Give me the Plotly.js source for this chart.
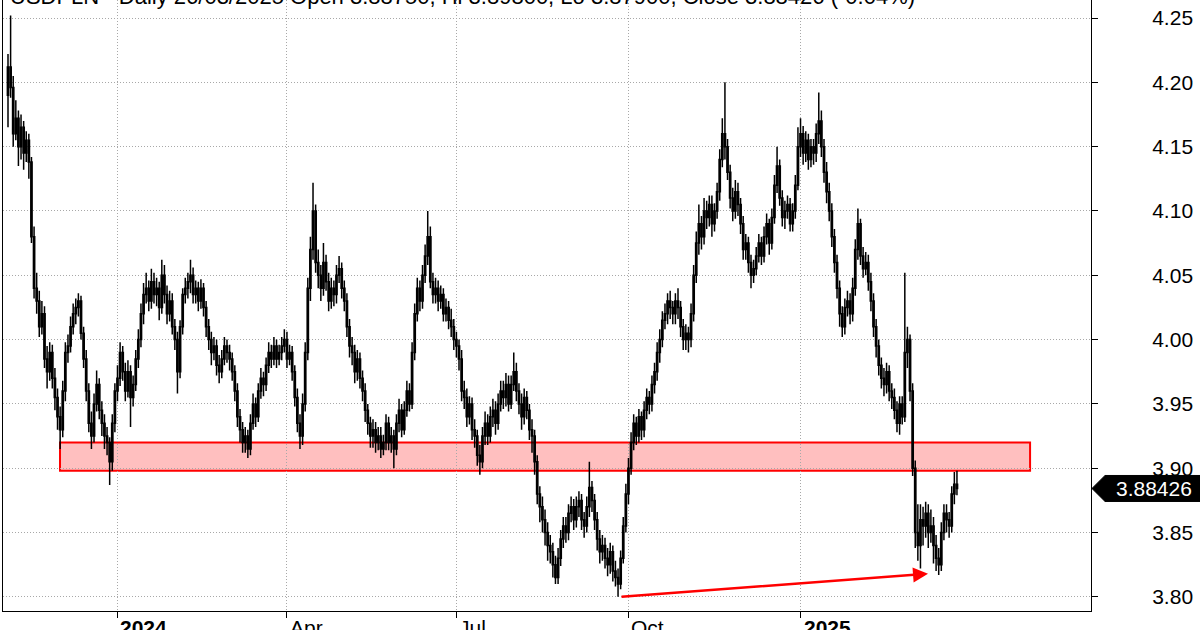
<!DOCTYPE html>
<html><head><meta charset="utf-8">
<script src="https://cdn.plot.ly/plotly-3.0.1.min.js"></script>
<style>html,body{margin:0;padding:0;background:#fff}#chart{width:1200px;height:630px}</style>
</head><body><div id="chart"></div>
<script>
// ---- data (USDPLN daily) ----
const firstDate = '2023-11-02';
const opens = [
4.190,4.212,4.196,4.160,4.172,4.150,4.165,4.145,4.155,4.138,
4.080,4.040,4.030,4.010,4.020,3.985,3.975,3.990,3.970,3.955,
3.940,3.930,3.960,3.990,3.995,4.010,4.020,4.025,4.030,4.005,
3.985,3.960,3.935,3.925,3.950,3.965,3.945,3.935,3.925,3.920,
3.905,3.935,3.960,3.970,3.990,3.975,3.960,3.975,3.955,3.965,
3.985,4.000,4.020,4.035,4.040,4.030,4.045,4.035,4.040,4.025,
4.050,4.035,4.020,4.030,4.010,4.000,3.975,4.010,4.035,4.040,
4.045,4.050,4.035,4.040,4.030,4.040,4.025,4.010,4.000,3.990,
3.995,3.980,3.975,3.985,3.995,3.990,3.985,3.975,3.960,3.940,
3.930,3.920,3.925,3.915,3.935,3.950,3.940,3.960,3.970,3.965,
3.980,3.990,3.985,3.995,3.985,3.990,3.995,4.000,3.985,3.990,
3.975,3.955,3.935,3.925,3.950,3.990,4.040,4.070,4.100,4.060,
4.050,4.040,4.060,4.045,4.030,4.040,4.035,4.050,4.055,4.040,
4.030,4.010,3.995,3.990,3.975,3.985,3.970,3.960,3.945,3.935,
3.925,3.930,3.920,3.925,3.915,3.920,3.935,3.920,3.925,3.915,
3.935,3.945,3.930,3.945,3.960,3.950,3.990,4.020,4.040,4.030,
4.050,4.065,4.080,4.045,4.035,4.040,4.030,4.035,4.020,4.025,
4.015,4.010,4.000,3.995,3.985,3.960,3.955,3.940,3.950,3.930,
3.925,3.910,3.905,3.925,3.935,3.925,3.940,3.945,3.935,3.950,
3.960,3.955,3.965,3.950,3.965,3.975,3.960,3.950,3.940,3.955,
3.945,3.930,3.925,3.905,3.880,3.870,3.860,3.850,3.840,3.835,
3.825,3.815,3.830,3.845,3.855,3.850,3.865,3.870,3.860,3.870,
3.875,3.860,3.855,3.870,3.885,3.875,3.860,3.845,3.835,3.840,
3.830,3.825,3.835,3.820,3.815,3.810,3.830,3.855,3.880,3.900,
3.920,3.935,3.925,3.940,3.930,3.945,3.955,3.950,3.965,3.975,
3.990,4.000,4.015,4.020,4.030,4.025,4.020,4.030,4.025,4.010,
4.000,4.005,4.000,4.020,4.050,4.075,4.090,4.080,4.100,4.095,
4.105,4.090,4.100,4.115,4.140,4.160,4.150,4.130,4.110,4.100,
4.115,4.105,4.090,4.070,4.075,4.060,4.050,4.055,4.065,4.075,
4.065,4.080,4.090,4.075,4.095,4.120,4.135,4.110,4.095,4.100,
4.105,4.090,4.100,4.120,4.150,4.160,4.145,4.155,4.140,4.150,
4.145,4.160,4.170,4.150,4.130,4.115,4.100,4.080,4.060,4.040,
4.020,4.010,4.025,4.030,4.020,4.040,4.070,4.090,4.065,4.055,
4.060,4.045,4.030,4.010,3.995,3.980,3.970,3.965,3.975,3.960,
3.955,3.945,3.935,3.950,3.940,3.990,4.000,3.960,3.900,3.850,
3.840,3.860,3.855,3.865,3.850,3.855,3.840,3.830,3.825,3.850,
3.865,3.860,3.855,3.880,3.8875];
const highs = [
4.222,4.252,4.205,4.186,4.178,4.175,4.170,4.162,4.160,4.142,
4.088,4.052,4.038,4.030,4.026,3.995,3.998,3.996,3.978,3.962,
3.948,3.968,3.998,4.004,4.018,4.028,4.032,4.036,4.034,4.010,
3.992,3.966,3.944,3.958,3.976,3.970,3.952,3.942,3.932,3.924,
3.942,3.966,3.980,3.998,3.995,3.982,3.984,3.980,3.972,3.992,
4.008,4.028,4.044,4.052,4.046,4.055,4.052,4.048,4.045,4.062,
4.058,4.042,4.038,4.036,4.016,4.006,4.015,4.040,4.048,4.052,
4.062,4.056,4.046,4.045,4.047,4.044,4.030,4.016,4.006,4.002,
4.000,3.988,3.992,4.002,4.000,3.996,3.990,3.980,3.966,3.946,
3.936,3.932,3.930,3.942,3.958,3.955,3.966,3.978,3.975,3.986,
3.998,3.996,4.002,4.000,3.996,4.002,4.008,4.006,3.996,3.995,
3.980,3.962,3.942,3.958,3.998,4.048,4.080,4.122,4.105,4.070,
4.058,4.075,4.066,4.052,4.048,4.046,4.058,4.065,4.060,4.046,
4.036,4.016,4.002,3.996,3.992,3.990,3.976,3.966,3.950,3.940,
3.938,3.936,3.932,3.932,3.926,3.942,3.940,3.932,3.930,3.942,
3.954,3.950,3.952,3.968,3.966,3.998,4.028,4.048,4.046,4.058,
4.074,4.100,4.088,4.052,4.048,4.046,4.042,4.040,4.032,4.030,
4.024,4.016,4.006,4.000,3.992,3.968,3.962,3.956,3.955,3.938,
3.930,3.918,3.932,3.944,3.942,3.948,3.954,3.952,3.958,3.968,
3.968,3.974,3.972,3.972,3.990,3.982,3.966,3.958,3.962,3.960,
3.950,3.938,3.930,3.910,3.886,3.878,3.868,3.858,3.848,3.842,
3.832,3.838,3.852,3.862,3.862,3.872,3.878,3.876,3.878,3.882,
3.880,3.866,3.878,3.905,3.890,3.880,3.866,3.852,3.848,3.846,
3.838,3.842,3.840,3.828,3.822,3.836,3.862,3.888,3.908,3.928,
3.942,3.940,3.946,3.944,3.952,3.962,3.960,3.972,3.982,3.998,
4.008,4.022,4.028,4.036,4.038,4.030,4.036,4.040,4.030,4.016,
4.012,4.010,4.028,4.058,4.084,4.105,4.096,4.110,4.108,4.112,
4.112,4.106,4.122,4.148,4.172,4.200,4.156,4.136,4.118,4.124,
4.122,4.110,4.096,4.082,4.080,4.066,4.062,4.072,4.082,4.080,
4.088,4.098,4.094,4.102,4.128,4.150,4.140,4.116,4.108,4.112,
4.110,4.106,4.128,4.165,4.172,4.166,4.162,4.160,4.156,4.156,
4.168,4.192,4.178,4.156,4.138,4.122,4.106,4.086,4.066,4.046,
4.026,4.032,4.038,4.036,4.048,4.078,4.102,4.094,4.072,4.068,
4.066,4.052,4.036,4.016,4.000,3.986,3.978,3.982,3.980,3.966,
3.962,3.952,3.956,3.956,4.052,4.010,4.004,3.966,3.906,3.872,
3.872,3.870,3.874,3.872,3.868,3.862,3.848,3.838,3.858,3.872,
3.872,3.866,3.886,3.897,3.898];
const lows = [
4.165,4.188,4.150,4.155,4.135,4.140,4.132,4.138,4.125,4.075,
4.032,4.020,4.002,4.004,3.978,3.962,3.968,3.962,3.945,3.930,
3.915,3.924,3.952,3.982,3.990,4.004,4.012,4.018,4.000,3.978,
3.952,3.928,3.915,3.920,3.944,3.938,3.925,3.915,3.910,3.887,
3.898,3.928,3.952,3.964,3.968,3.952,3.955,3.932,3.948,3.960,
3.978,3.994,4.012,4.028,4.022,4.024,4.028,4.026,4.015,4.020,
4.028,4.012,4.014,4.004,3.992,3.958,3.970,4.004,4.028,4.032,
4.036,4.028,4.028,4.022,4.024,4.018,4.002,3.992,3.980,3.984,
3.972,3.966,3.970,3.980,3.982,3.976,3.968,3.952,3.932,3.920,
3.912,3.912,3.908,3.910,3.930,3.932,3.936,3.954,3.956,3.960,
3.974,3.978,3.980,3.978,3.980,3.984,3.990,3.978,3.980,3.968,
3.948,3.928,3.915,3.918,3.944,3.984,4.030,4.062,4.052,4.040,
4.030,4.034,4.038,4.022,4.024,4.026,4.028,4.044,4.032,4.022,
4.002,3.986,3.980,3.966,3.968,3.962,3.952,3.936,3.926,3.916,
3.916,3.912,3.914,3.908,3.910,3.914,3.914,3.912,3.900,3.910,
3.928,3.924,3.926,3.940,3.944,3.946,3.984,4.014,4.022,4.024,
4.044,4.058,4.040,4.028,4.028,4.022,4.024,4.014,4.014,4.008,
4.002,3.992,3.986,3.976,3.952,3.946,3.932,3.934,3.922,3.916,
3.902,3.895,3.900,3.918,3.918,3.920,3.932,3.926,3.930,3.944,
3.946,3.948,3.944,3.946,3.960,3.952,3.942,3.930,3.934,3.938,
3.922,3.912,3.895,3.872,3.858,3.850,3.840,3.828,3.826,3.815,
3.810,3.810,3.824,3.838,3.842,3.844,3.858,3.852,3.854,3.862,
3.852,3.846,3.850,3.862,3.866,3.852,3.836,3.826,3.828,3.822,
3.816,3.818,3.812,3.808,3.800,3.806,3.826,3.850,3.872,3.895,
3.914,3.918,3.920,3.922,3.924,3.938,3.942,3.944,3.958,3.968,
3.982,3.994,4.008,4.012,4.016,4.012,4.012,4.016,4.002,3.992,
3.992,3.990,3.994,4.014,4.044,4.066,4.070,4.074,4.086,4.088,
4.080,4.084,4.094,4.108,4.134,4.140,4.124,4.102,4.092,4.094,
4.096,4.082,4.062,4.062,4.052,4.040,4.044,4.050,4.060,4.058,
4.060,4.074,4.066,4.070,4.090,4.114,4.104,4.088,4.086,4.094,
4.084,4.084,4.094,4.116,4.142,4.136,4.138,4.132,4.134,4.136,
4.138,4.152,4.142,4.122,4.106,4.092,4.072,4.052,4.032,4.010,
4.002,4.004,4.018,4.012,4.014,4.034,4.062,4.058,4.048,4.050,
4.038,4.022,4.002,3.986,3.972,3.962,3.956,3.958,3.952,3.946,
3.938,3.928,3.926,3.934,3.936,3.978,3.952,3.894,3.838,3.828,
3.822,3.840,3.846,3.838,3.842,3.826,3.820,3.817,3.820,3.844,
3.850,3.846,3.850,3.872,3.879];
const closes = [
4.212,4.196,4.160,4.172,4.150,4.165,4.145,4.155,4.138,4.080,
4.040,4.030,4.010,4.020,3.985,3.975,3.990,3.970,3.955,3.940,
3.930,3.960,3.990,3.995,4.010,4.020,4.025,4.030,4.005,3.985,
3.960,3.935,3.925,3.950,3.965,3.945,3.935,3.925,3.920,3.905,
3.935,3.960,3.970,3.990,3.975,3.960,3.975,3.955,3.965,3.985,
4.000,4.020,4.035,4.040,4.030,4.045,4.035,4.040,4.025,4.050,
4.035,4.020,4.030,4.010,4.000,3.975,4.010,4.035,4.040,4.045,
4.050,4.035,4.040,4.030,4.040,4.025,4.010,4.000,3.990,3.995,
3.980,3.975,3.985,3.995,3.990,3.985,3.975,3.960,3.940,3.930,
3.920,3.925,3.915,3.935,3.950,3.940,3.960,3.970,3.965,3.980,
3.990,3.985,3.995,3.985,3.990,3.995,4.000,3.985,3.990,3.975,
3.955,3.935,3.925,3.950,3.990,4.040,4.070,4.100,4.060,4.050,
4.040,4.060,4.045,4.030,4.040,4.035,4.050,4.055,4.040,4.030,
4.010,3.995,3.990,3.975,3.985,3.970,3.960,3.945,3.935,3.925,
3.930,3.920,3.925,3.915,3.920,3.935,3.920,3.925,3.915,3.935,
3.945,3.930,3.945,3.960,3.950,3.990,4.020,4.040,4.030,4.050,
4.065,4.080,4.045,4.035,4.040,4.030,4.035,4.020,4.025,4.015,
4.010,4.000,3.995,3.985,3.960,3.955,3.940,3.950,3.930,3.925,
3.910,3.905,3.925,3.935,3.925,3.940,3.945,3.935,3.950,3.960,
3.955,3.965,3.950,3.965,3.975,3.960,3.950,3.940,3.955,3.945,
3.930,3.925,3.905,3.880,3.870,3.860,3.850,3.840,3.835,3.825,
3.815,3.830,3.845,3.855,3.850,3.865,3.870,3.860,3.870,3.875,
3.860,3.855,3.870,3.885,3.875,3.860,3.845,3.835,3.840,3.830,
3.825,3.835,3.820,3.815,3.810,3.830,3.855,3.880,3.900,3.920,
3.935,3.925,3.940,3.930,3.945,3.955,3.950,3.965,3.975,3.990,
4.000,4.015,4.020,4.030,4.025,4.020,4.030,4.025,4.010,4.000,
4.005,4.000,4.020,4.050,4.075,4.090,4.080,4.100,4.095,4.105,
4.090,4.100,4.115,4.140,4.160,4.150,4.130,4.110,4.100,4.115,
4.105,4.090,4.070,4.075,4.060,4.050,4.055,4.065,4.075,4.065,
4.080,4.090,4.075,4.095,4.120,4.135,4.110,4.095,4.100,4.105,
4.090,4.100,4.120,4.150,4.160,4.145,4.155,4.140,4.150,4.145,
4.160,4.170,4.150,4.130,4.115,4.100,4.080,4.060,4.040,4.020,
4.010,4.025,4.030,4.020,4.040,4.070,4.090,4.065,4.055,4.060,
4.045,4.030,4.010,3.995,3.980,3.970,3.965,3.975,3.960,3.955,
3.945,3.935,3.950,3.940,3.990,4.000,3.960,3.900,3.850,3.840,
3.860,3.855,3.865,3.850,3.855,3.840,3.830,3.825,3.850,3.865,
3.860,3.855,3.880,3.8875,3.88426];

const tickDates  = ['2024-01-01','2024-04-01','2024-07-01','2024-10-01','2025-01-01'];
const tickLabels = ['2024','Apr','Jul','Oct','2025'];
const tickBold   = [true,false,false,false,true];
const yTicks = [3.80,3.85,3.90,3.95,4.00,4.05,4.10,4.15,4.20,4.25];
const zoneLow = 3.898, zoneHigh = 3.920;
const lastPrice = 3.88426;
const arrowEnd = 3.8179;
const titleText = 'USDPLN - Daily 26/03/2025 Open 3.88750, Hi 3.89800, Lo 3.87900, Close 3.88426 (-0.04%)';

// trading (week) days starting at firstDate, one per candle
function tradingDates(start, n) {
  const out = []; const d = new Date(start + 'T00:00:00Z');
  while (out.length < n) {
    const wd = d.getUTCDay();
    if (wd !== 0 && wd !== 6) out.push(d.toISOString().slice(0, 10));
    d.setUTCDate(d.getUTCDate() + 1);
  }
  return out;
}
const dates = tradingDates(firstDate, closes.length);

const FONT = 'Arial, "Liberation Sans", sans-serif';

const trace = {
  type: 'candlestick', x: dates, open: opens, high: highs, low: lows, close: closes,
  increasing: {line: {color: '#000', width: 1.5}, fillcolor: '#ffffff'},
  decreasing: {line: {color: '#000', width: 1.5}, fillcolor: '#000000'},
  whiskerwidth: 0, hoverinfo: 'skip', showlegend: false
};

const annotations = tickDates.map((d, i) => ({
  x: d, xref: 'x', y: 0, yref: 'paper', xanchor: 'left', yanchor: 'top',
  xshift: 1, yshift: -3, showarrow: false,
  text: tickBold[i] ? '<b>' + tickLabels[i] + '</b>' : tickLabels[i],
  font: {family: FONT, size: 21, color: '#000'}
}));
annotations.push({
  x: 0.0046, xref: 'paper', y: 1, yref: 'paper', xanchor: 'left', yanchor: 'middle',
  yshift: 4, showarrow: false, text: titleText,
  font: {family: FONT, size: 22, color: '#000'}
});
annotations.push({
  x: 1.0579, xref: 'paper', y: lastPrice, yref: 'y', xanchor: 'center', yanchor: 'middle',
  showarrow: false, text: lastPrice.toFixed(5),
  font: {family: FONT, size: 21, color: '#fff'}
});
annotations.push({
  x: 0.8502, xref: 'paper', y: arrowEnd, yref: 'y', ax: -308, ay: 23,
  text: '', showarrow: true, arrowhead: 2, arrowsize: 1.2, arrowwidth: 2.5,
  arrowcolor: '#ff0000', standoff: 0
});

const tagH = 0.0101;
const shapes = [
  {type: 'rect', xref: 'paper', x0: 0.0524, x1: 0.944, yref: 'y', y0: zoneLow, y1: zoneHigh,
   fillcolor: '#ffbfbf', line: {color: '#ff0000', width: 2}, layer: 'below'},
  {type: 'path', xref: 'paper', yref: 'y', fillcolor: '#000', line: {color: '#000', width: 1},
   path: 'M 1.0009,' + lastPrice + ' L 1.0129,' + (lastPrice + tagH) + ' L 1.101,' + (lastPrice + tagH) +
         ' L 1.101,' + (lastPrice - tagH) + ' L 1.0129,' + (lastPrice - tagH) + ' Z'}
];

const layout = {
  width: 1200, height: 630, margin: {l: 3, r: 109, t: 0, b: 19},
  paper_bgcolor: '#fff', plot_bgcolor: '#fff', showlegend: false,
  font: {family: FONT, color: '#000'},
  xaxis: {
    type: 'date', range: ['2023-10-31 02:00', '2025-06-05 10:00'],
    rangebreaks: [{bounds: ['sat', 'mon']}], rangeslider: {visible: false},
    tickvals: tickDates, showticklabels: false, ticks: 'outside', ticklen: 6, tickcolor: '#000', tickwidth: 1,
    showgrid: true, gridcolor: '#a8a8a8', griddash: '1px,2px', gridwidth: 1,
    showline: true, linecolor: '#000', linewidth: 1, zeroline: false, fixedrange: true
  },
  yaxis: {
    side: 'right', range: [3.789, 4.264], tickvals: yTicks, tickformat: '.2f',
    ticks: 'outside', ticklen: 6, tickcolor: '#000', ticklabelstandoff: 50,
    tickfont: {family: FONT, size: 21, color: '#000'},
    showgrid: true, gridcolor: '#a8a8a8', griddash: '1px,2px', gridwidth: 1,
    showline: true, mirror: true, linecolor: '#000', linewidth: 1, zeroline: false, fixedrange: true
  },
  shapes: shapes, annotations: annotations
};

Plotly.newPlot('chart', [trace], layout, {staticPlot: true, displayModeBar: false});
</script>
</body></html>
